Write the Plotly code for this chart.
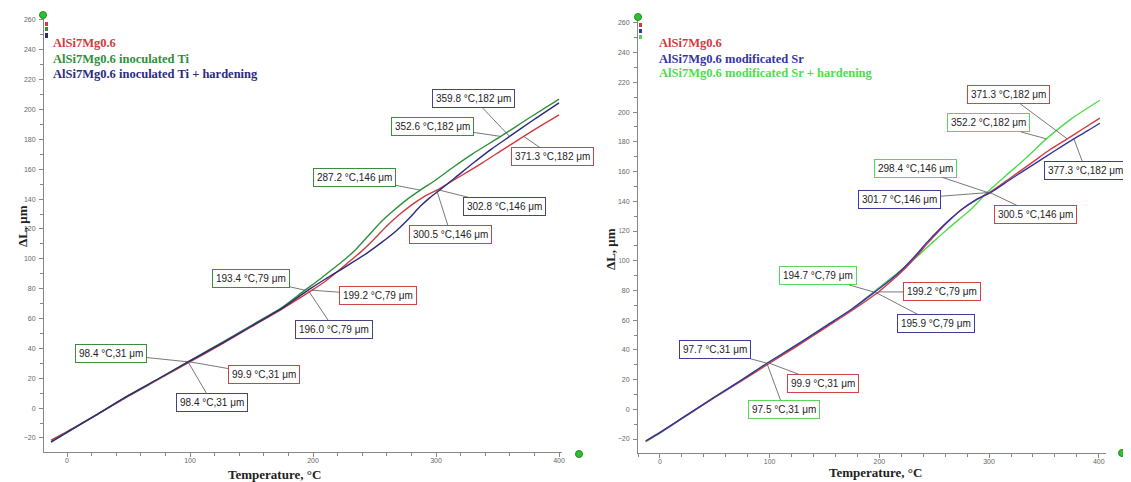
import plotly.graph_objects as go

W, H = 1131, 482
OFF = 8  # page body margin of the html page

# ---------------- data: left panel (inoculated Ti) ----------------
L_red_x = [-13, 0, 25, 50, 75, 99.9, 125, 150, 175, 199.2, 210, 220, 230, 240, 250, 260, 270, 280, 290, 300.5, 320, 338, 355, 371.3, 385, 400]
L_red_y = [-21.5, -15.8, -4, 8, 19.5, 31, 42.5, 54.5, 66.5, 79, 85, 91.5, 98.5, 105.5, 113.5, 122, 129.5, 136, 141.5, 146, 155.5, 164.5, 173.5, 182, 189, 196.5]

L_grn_x = [-13, 0, 25, 50, 75, 98.4, 125, 150, 175, 193.4, 205, 215, 225, 235, 245, 255, 265, 276, 287.2, 300, 315, 330, 352.6, 375, 400]
L_grn_y = [-22.5, -16.2, -4, 8.5, 20, 31, 43.5, 55.5, 67.5, 79, 86, 92.5, 99, 106.5, 115.5, 124.5, 132, 139.5, 146, 153, 162, 170.5, 182, 194, 207]

L_blu_x = [-13, 0, 25, 50, 75, 98.4, 125, 150, 175, 196, 210, 225, 243.6, 255, 268, 278, 287, 295, 302.8, 315, 330, 345, 359.8, 380, 400]
L_blu_y = [-22.8, -16.3, -4, 8.5, 20, 31, 43, 55, 67, 79, 86.5, 94, 103.7, 110.5, 119, 127, 135, 141, 146, 154, 164, 173.5, 182, 193.5, 204.5]

# ---------------- data: right panel (modificated Sr) ----------------
R_red_x = [-13, 0, 25, 50, 75, 99.9, 125, 150, 175, 199.2, 212, 225, 235, 245, 255, 265, 275, 287, 300.5, 320, 340, 355, 371.3, 385, 401]
R_red_y = [-21.3, -15.5, -3.8, 8, 19.5, 31, 42.5, 54.5, 66.5, 79, 87, 96, 104, 112.5, 120.5, 128, 134.5, 140.5, 146, 156, 166.5, 174.5, 182, 188.5, 196]

R_blu_x = [-13, 0, 25, 50, 75, 97.7, 125, 150, 175, 195.9, 210, 222, 233, 243, 254, 264, 275, 288, 301.7, 320, 340, 360, 377.3, 390, 401]
R_blu_y = [-21.5, -15.7, -3.6, 8.3, 20, 31, 43.5, 55.5, 67.5, 79, 87, 95, 103.5, 112, 120.5, 127.5, 134.5, 141, 146, 155, 164.5, 174, 182, 187.5, 192.5]

R_grn_x = [-13, 0, 25, 50, 75, 97.5, 125, 150, 175, 194.7, 212, 234, 248, 261, 272, 282.6, 298.4, 315, 335, 352.2, 375, 401]
R_grn_y = [-21.8, -16, -4, 8.5, 20, 31, 43.5, 55.5, 67.5, 79, 89, 102.5, 112, 120.5, 127.5, 134, 146, 157, 170, 182, 195.5, 208]

L_names = ["AlSi7Mg0.6", "AlSi7Mg0.6 inoculated Ti", "AlSi7Mg0.6 inoculated Ti + hardening"]
R_names = ["AlSi7Mg0.6", "AlSi7Mg0.6 modificated Sr", "AlSi7Mg0.6 modificated Sr + hardening"]

# marked points: (series key, temperature, dL)
L_marks = [("red", 99.9, 31), ("grn", 98.4, 31), ("blu", 98.4, 31),
           ("grn", 193.4, 79), ("red", 199.2, 79), ("blu", 196.0, 79),
           ("grn", 287.2, 146), ("red", 300.5, 146), ("blu", 302.8, 146),
           ("grn", 352.6, 182), ("blu", 359.8, 182), ("red", 371.3, 182)]
R_marks = [("red", 99.9, 31), ("blu", 97.7, 31), ("grn", 97.5, 31),
           ("grn", 194.7, 79), ("red", 199.2, 79), ("blu", 195.9, 79),
           ("grn", 298.4, 146), ("blu", 301.7, 146), ("red", 300.5, 146),
           ("grn", 352.2, 182), ("red", 371.3, 182), ("blu", 377.3, 182)]

# label offsets (pixels) for each marked point, same order
L_offsets = [(74, 13), (-77, -8), (24, 41),
             (-54, -12), (66, 5), (26, 39),
             (-66, -13), (14, 44), (65, 16),
             (-68, -10), (-36, -38), (29, 20)]
R_offsets = [(53, 20), (-52, -14), (17, 46),
             (-56, -16), (64, 0), (61, 32),
             (-72, -24), (-91, 7), (46, 22),
             (-58, -16), (-59, -44), (12, 32)]

# ---------------- styling ----------------
L_col = {"red": "#d23a3f", "grn": "#2f8f3a", "blu": "#2b2b7e"}
R_col = {"red": "#d23a3f", "blu": "#3434a6", "grn": "#4fdb4f"}
L_box = {"red": "#cc4444", "grn": "#3d8b3d", "blu": "#45457e"}
R_box = {"red": "#cc4444", "blu": "#3c3c9c", "grn": "#5ad65a"}

fig = go.Figure()

def add_line(x, y, col, xa, ya, name):
    fig.add_trace(go.Scatter(x=x, y=y, mode="lines", name=name,
                             line=dict(color=col, width=1.4, shape="spline", smoothing=0.7),
                             xaxis=xa, yaxis=ya, showlegend=False, hoverinfo="skip"))

add_line(L_red_x, L_red_y, L_col["red"], "x", "y", L_names[0])
add_line(L_grn_x, L_grn_y, L_col["grn"], "x", "y", L_names[1])
add_line(L_blu_x, L_blu_y, L_col["blu"], "x", "y", L_names[2])

add_line(R_grn_x, R_grn_y, R_col["grn"], "x2", "y2", R_names[2])
add_line(R_red_x, R_red_y, R_col["red"], "x2", "y2", R_names[0])
add_line(R_blu_x, R_blu_y, R_col["blu"], "x2", "y2", R_names[1])

annotations = []

def add_marks(marks, offsets, boxcol, xr, yr):
    for (key, t, v), (ax, ay) in zip(marks, offsets):
        annotations.append(dict(
            x=t, y=v, xref=xr, yref=yr, text=f"{t:.1f} \u00b0C,{v} \u03bcm",
            showarrow=True, arrowhead=0, arrowwidth=0.8, arrowcolor="#555555",
            ax=ax, ay=ay, bgcolor="white", bordercolor=boxcol[key], borderwidth=1,
            borderpad=3, font=dict(family="Liberation Sans", size=10, color="#222222")))

add_marks(L_marks, L_offsets, L_box, "x", "y")
add_marks(R_marks, R_offsets, R_box, "x2", "y2")

def px(xp):
    return (xp - OFF) / W

def py(yp):
    return 1 - (yp - OFF) / H

# legends (series names)
for i, (name, key) in enumerate(zip(L_names, ["red", "grn", "blu"])):
    annotations.append(dict(x=px(51), y=py([43, 59, 74][i]), xref="paper", yref="paper",
                            text=f"<b>{name}</b>", showarrow=False, xanchor="left", yanchor="middle",
                            font=dict(family="Liberation Serif", size=12.5, color=L_col[key])))
for i, (name, key) in enumerate(zip(R_names, ["red", "blu", "grn"])):
    annotations.append(dict(x=px(657), y=py([43, 59, 73][i]), xref="paper", yref="paper",
                            text=f"<b>{name}</b>", showarrow=False, xanchor="left", yanchor="middle",
                            font=dict(family="Liberation Serif", size=12.5, color=R_col[key])))

# axis titles
title_font = dict(family="Liberation Serif", size=13, color="#222222")
annotations.append(dict(x=px(23), y=py(226), xref="paper", yref="paper", text="<b>\u0394L, \u03bcm</b>",
                        textangle=-90, showarrow=False, font=title_font, xanchor="center", yanchor="middle"))
annotations.append(dict(x=px(610), y=py(249), xref="paper", yref="paper", text="<b>\u0394L, \u03bcm</b>",
                        textangle=-90, showarrow=False, font=title_font, bgcolor="white",
                        xanchor="center", yanchor="middle"))
annotations.append(dict(x=px(274), y=py(474), xref="paper", yref="paper", text="<b>Temperature, \u00b0C</b>",
                        showarrow=False, font=title_font, xanchor="center", yanchor="middle"))
annotations.append(dict(x=px(875), y=py(472), xref="paper", yref="paper", text="<b>Temperature, \u00b0C</b>",
                        showarrow=False, font=title_font, xanchor="center", yanchor="middle"))

# decorative markers: small colour squares at top of y axes and green handles
shapes = []
for (y0, y1), key in zip([(22, 26), (27, 31), (33, 38)], ["red", "grn", "blu"]):
    shapes.append(dict(type="rect", xref="paper", yref="paper", x0=px(45), x1=px(48), y0=py(y1), y1=py(y0),
                       fillcolor=L_col[key], line=dict(width=0)))
for (y0, y1), key in zip([(23, 27), (29, 33), (35, 39)], ["red", "blu", "grn"]):
    shapes.append(dict(type="rect", xref="paper", yref="paper", x0=px(639), x1=px(642), y0=py(y1), y1=py(y0),
                       fillcolor=R_col[key], line=dict(width=0)))
for cx, cy in [(43, 15), (579, 454), (638, 17), (1122, 453)]:
    shapes.append(dict(type="circle", xref="paper", yref="paper", x0=px(cx - 3.5), x1=px(cx + 3.5),
                       y0=py(cy + 3.5), y1=py(cy - 3.5), fillcolor="#2fbf2f", line=dict(color="#1f8f1f", width=1)))

tickfont = dict(family="Liberation Sans", size=7, color="#666666")
axis_common = dict(showgrid=False, zeroline=False, showline=True, linecolor="#888888", linewidth=1,
                   ticks="outside", tickcolor="#888888", ticklen=4, tickfont=tickfont, automargin=False)

fig.update_layout(
    width=W, height=H, margin=dict(l=0, r=0, t=0, b=0),
    paper_bgcolor="white", plot_bgcolor="white", showlegend=False,
    xaxis=dict(domain=[px(44), px(562)], range=[-18.7, 402.4], dtick=100, tick0=0, ticklabelstandoff=-2,
               minor=dict(dtick=20, ticks="outside", ticklen=3, tickcolor="#888888"),
               anchor="y", **axis_common),
    yaxis=dict(domain=[py(452), py(17)], range=[-29.4, 262], dtick=20, tick0=0, ticklabelstandoff=2,
               minor=dict(dtick=10, ticks="outside", ticklen=3, tickcolor="#888888"),
               anchor="x", **axis_common),
    xaxis2=dict(domain=[px(638), px(1106)], range=[-20, 406.6], dtick=100, tick0=0, ticklabelstandoff=-2,
                minor=dict(dtick=20, ticks="outside", ticklen=3, tickcolor="#888888"),
                anchor="y2", **axis_common),
    yaxis2=dict(domain=[py(453), py(20)], range=[-29.4, 262], dtick=20, tick0=0, ticklabelstandoff=2,
                minor=dict(dtick=10, ticks="outside", ticklen=3, tickcolor="#888888"),
                anchor="x2", **axis_common),
    annotations=annotations, shapes=shapes,
)

fig.write_html("out.html")
